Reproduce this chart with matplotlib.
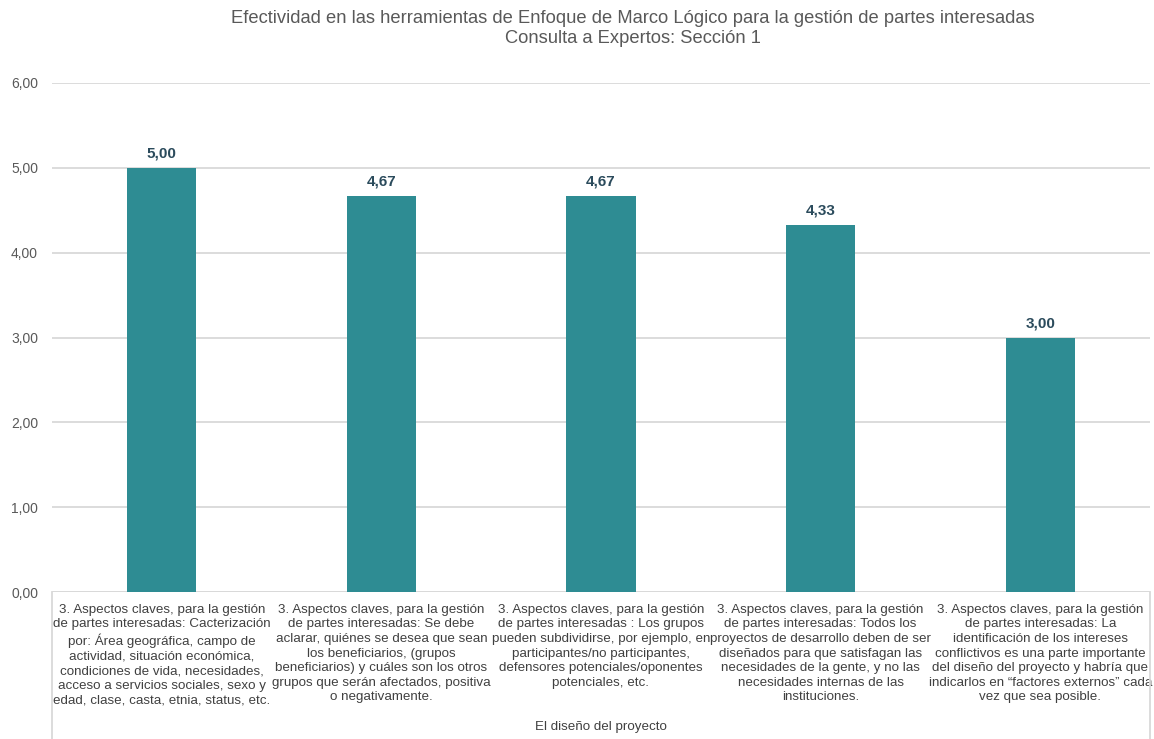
import matplotlib
matplotlib.use("Agg")
import matplotlib.pyplot as plt
from matplotlib.lines import Line2D
from matplotlib.ticker import FuncFormatter

plt.rcParams['font.family'] = ['Liberation Sans', 'DejaVu Sans']

title = ("Efectividad en las herramientas de Enfoque de Marco Lógico para la gestión de partes interesadas\n"
         "Consulta a Expertos: Sección 1")
group_label = "El diseño del proyecto"

categories = [
    "3. Aspectos claves, para la gestión\nde partes interesadas: Cacterización\npor: Área geográfica, campo de\n"
    "actividad, situación económica,\ncondiciones de vida, necesidades,\nacceso a servicios sociales, sexo y\n"
    "edad, clase, casta, etnia, status, etc.",
    "3. Aspectos claves, para la gestión\nde partes interesadas: Se debe\naclarar, quiénes se desea que sean\n"
    "los beneficiarios, (grupos\nbeneficiarios) y cuáles son los otros\ngrupos que serán afectados, positiva\n"
    "o negativamente.",
    "3. Aspectos claves, para la gestión\nde partes interesadas : Los grupos\npueden subdividirse, por ejemplo, en\n"
    "participantes/no participantes,\ndefensores potenciales/oponentes\npotenciales, etc.",
    "3. Aspectos claves, para la gestión\nde partes interesadas: Todos los\nproyectos de desarrollo deben de ser\n"
    "diseñados para que satisfagan las\nnecesidades de la gente, y no las\nnecesidades internas de las\n"
    "instituciones.",
    "3. Aspectos claves, para la gestión\nde partes interesadas: La\nidentificación de los intereses\n"
    "conflictivos es una parte importante\ndel diseño del proyecto y habría que\n"
    "indicarlos en “factores externos” cada\nvez que sea posible.",
]
values = [5.00, 4.67, 4.67, 4.33, 3.00]
yticks = [0, 1, 2, 3, 4, 5, 6]

W, H = 1154, 739
fig = plt.figure(figsize=(W / 100, H / 100), dpi=100)
left, right, top, bottom = 52, 1150, 83, 592
ax = fig.add_axes([left / W, 1 - bottom / H, (right - left) / W, (bottom - top) / H])

bar_color = "#2E8C93"
x = list(range(len(values)))
ax.bar(x, values, width=0.315, color=bar_color, zorder=3)

for xi, v in zip(x, values):
    ax.annotate(f"{v:.2f}".replace(".", ","), (xi, v), xytext=(0, 5), textcoords="offset points",
                ha="center", va="bottom", fontsize=11, fontweight="bold", color="#2B4B5C")

ax.set_xlim(-0.5, len(values) - 0.5)
ax.set_ylim(0, 6)
ax.set_yticks(yticks)
ax.yaxis.set_major_formatter(FuncFormatter(lambda v, p: f"{v:.2f}".replace(".", ",")))
ax.grid(axis="y", color="#D9D9D9", linewidth=1.3, zorder=0)
for s in ax.spines.values():
    s.set_visible(False)
ax.tick_params(axis="y", length=0, pad=10, labelsize=10, labelcolor="#595959")
ax.tick_params(axis="x", length=0, pad=8.5, labelsize=9.6, labelcolor="#404040")
ax.set_xticks(x)
ax.set_xticklabels(categories, ha="center", multialignment="center", linespacing=1.29)

# baseline and category box borders
ax.axhline(0, color="#D9D9D9", linewidth=1.3, zorder=2)
for px in (left, right):
    fig.add_artist(Line2D([px / W, px / W], [1 - bottom / H, 0], color="#D9D9D9", linewidth=1.3))

fig.text(633 / W, 1 - 10 / H, title, ha="center", va="top", fontsize=13.2, color="#595959", linespacing=1.2)
fig.text((left + right) / 2 / W, 1 - 727 / H, group_label, ha="center", va="center", fontsize=9.6, color="#404040")

fig.savefig("out.png", dpi=100, facecolor="white")
